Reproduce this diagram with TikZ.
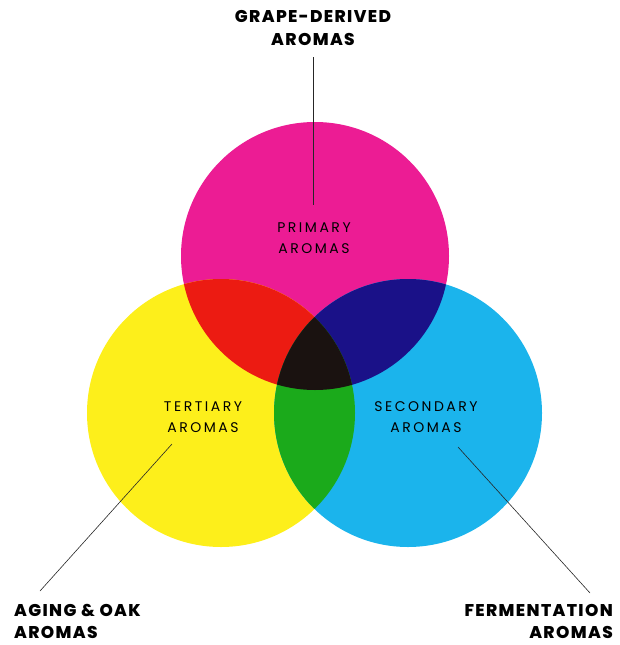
\documentclass[tikz,border=0pt]{standalone}
\usepackage{fontspec}
\setmainfont{Poppins}
\newfontfamily\aromafont[LetterSpace=18]{Poppins}
\newfontfamily\headfont[LetterSpace=8]{Poppins ExtraBold}
\usetikzlibrary{positioning}

\definecolor{primcol}{RGB}{236,28,148}
\definecolor{tertcol}{RGB}{253,239,27}
\definecolor{seccol}{RGB}{27,180,236}
\definecolor{redcol}{RGB}{236,27,18}
\definecolor{navycol}{RGB}{26,17,136}
\definecolor{greencol}{RGB}{27,170,27}
\definecolor{corecol}{RGB}{26,18,16}

\begin{document}
\begin{tikzpicture}[x=1pt,y=-1pt,
    aroma/.style={font=\aromafont\fontsize{14}{21}\selectfont,align=center,inner sep=0pt,anchor=base},
    outer/.style={font=\headfont\fontsize{17}{22}\selectfont,inner sep=0pt},
    lead/.style={draw=black!85,line width=0.6pt}]
  \useasboundingbox (0,0) rectangle (619,645);

  % circle centres
  \coordinate (p) at (315,256);
  \coordinate (t) at (221,413);
  \coordinate (s) at (408,413);

  \fill[primcol] (p) circle[radius=134pt];
  \fill[tertcol] (t) circle[radius=134pt];
  \fill[seccol] (s) circle[radius=134pt];

  % overlaps
  \begin{scope}
    \clip (p) circle[radius=134pt];
    \fill[redcol] (t) circle[radius=134pt];
    \fill[navycol] (s) circle[radius=134pt];
  \end{scope}
  \begin{scope}
    \clip (t) circle[radius=134pt];
    \fill[greencol] (s) circle[radius=134pt];
    \clip (s) circle[radius=134pt];
    \fill[corecol] (p) circle[radius=134pt];
  \end{scope}

  % labels (base = last line)
  \node[aroma] (primary) at (314,253) {PRIMARY\\AROMAS};
  \node[aroma] (tertiary) at (203,432) {TERTIARY\\AROMAS};
  \node[aroma] (secondary) at (426,432) {SECONDARY\\AROMAS};

  \node[outer,align=center,anchor=base] (grape) at (313,45) {GRAPE-DERIVED\\AROMAS};
  \node[outer,align=left,anchor=base west] (oak) at (14,638) {AGING \& OAK\\AROMAS};
  \node[outer,align=right,anchor=base east] (ferm) at (613,638) {FERMENTATION\\AROMAS};

  % leader lines
  \coordinate (grapeend) at (313,57);
  \coordinate (primend) at (313,205);
  \coordinate (oakend) at (40,591);
  \coordinate (tertend) at (172,444);
  \coordinate (fermend) at (590,593);
  \coordinate (secend) at (458,447);

  \path[lead] (grapeend) edge (primend);
  \path[lead] (oakend) edge (tertend);
  \path[lead] (fermend) edge (secend);
\end{tikzpicture}
\end{document}
